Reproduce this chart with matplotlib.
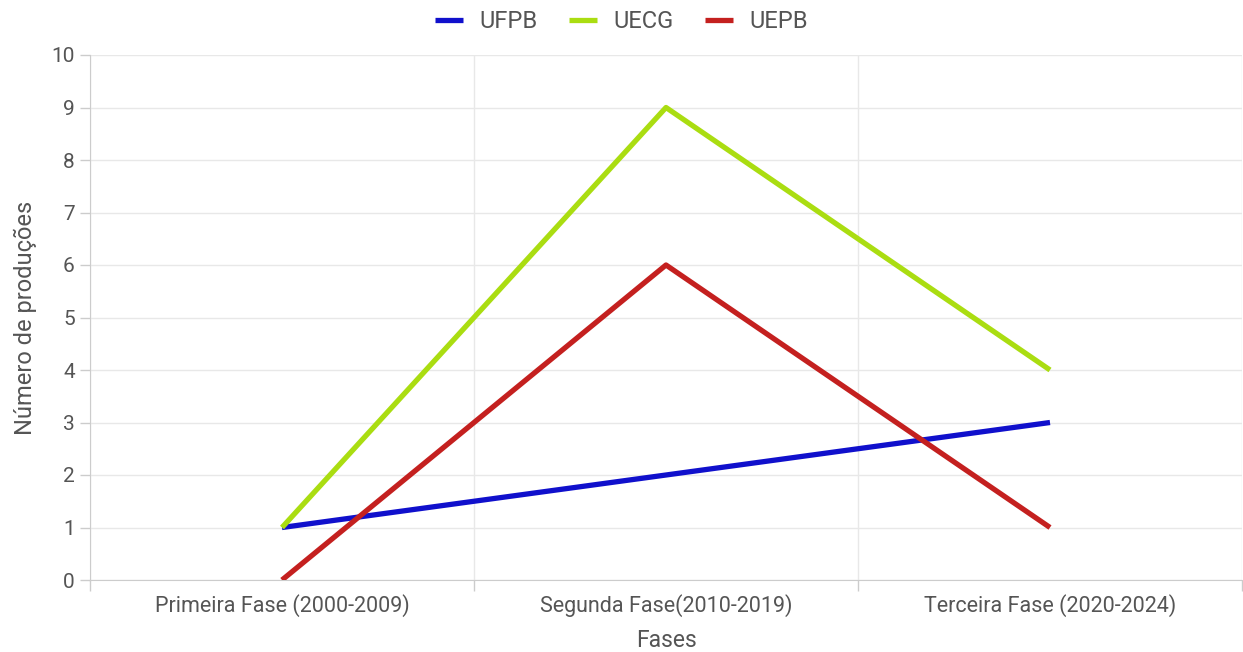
import matplotlib
matplotlib.use("Agg")
import matplotlib.pyplot as plt
from matplotlib.ticker import FixedLocator

plt.rcParams['font.family'] = ['Roboto', 'DejaVu Sans']

fases = ["Primeira Fase (2000-2009)", "Segunda Fase(2010-2019)", "Terceira Fase (2020-2024)"]
ufpb = [1, 2, 3]
uecg = [1, 9, 4]
uepb = [0, 6, 1]

series = [
    ("UFPB", ufpb, "#1010cc"),
    ("UECG", uecg, "#aadd11"),
    ("UEPB", uepb, "#c4201f"),
]

txt = "#555555"

fig = plt.figure(figsize=(12.43, 6.52), dpi=100)
ax = fig.add_axes([90 / 1243, 1 - 580 / 652, 1152 / 1243, 525 / 652])

x = list(range(len(fases)))
for name, vals, col in series:
    ax.plot(x, vals, color=col, lw=3.8, label=name, solid_capstyle="butt", zorder=3)

ax.set_xlim(-0.5, len(fases) - 0.5)
ax.set_ylim(0, 10)
ax.set_yticks(range(0, 11))
ax.set_xticks(x)
ax.set_xticklabels(fases)
ax.xaxis.set_minor_locator(FixedLocator([i - 0.5 for i in range(len(fases) + 1)]))

ax.tick_params(axis="x", which="major", length=0, pad=10, labelsize=15.5, labelcolor=txt)
ax.tick_params(axis="x", which="minor", length=8, color="#cccccc", width=1)
ax.tick_params(axis="y", length=7, color="#cccccc", width=1, pad=4, labelsize=15, labelcolor=txt)

ax.grid(axis="y", color="#e8e8e8", lw=1)
ax.grid(axis="x", which="minor", color="#e8e8e8", lw=1)
ax.set_axisbelow(True)

for s in ["top", "right"]:
    ax.spines[s].set_visible(False)
ax.spines["left"].set_color("#cccccc")
ax.spines["bottom"].set_color("#cccccc")

ax.set_xlabel("Fases", fontsize=16.5, color=txt, labelpad=9)
ax.set_ylabel("Número de produções", fontsize=17, color=txt, labelpad=10)

fig.legend(*ax.get_legend_handles_labels(), loc="center", bbox_to_anchor=(0.5, 1 - 22 / 652),
           ncol=3, frameon=False, fontsize=17, labelcolor=txt, handlelength=1.2,
           columnspacing=1.3, handletextpad=0.7)

fig.savefig("out.png", dpi=100, facecolor="white")
